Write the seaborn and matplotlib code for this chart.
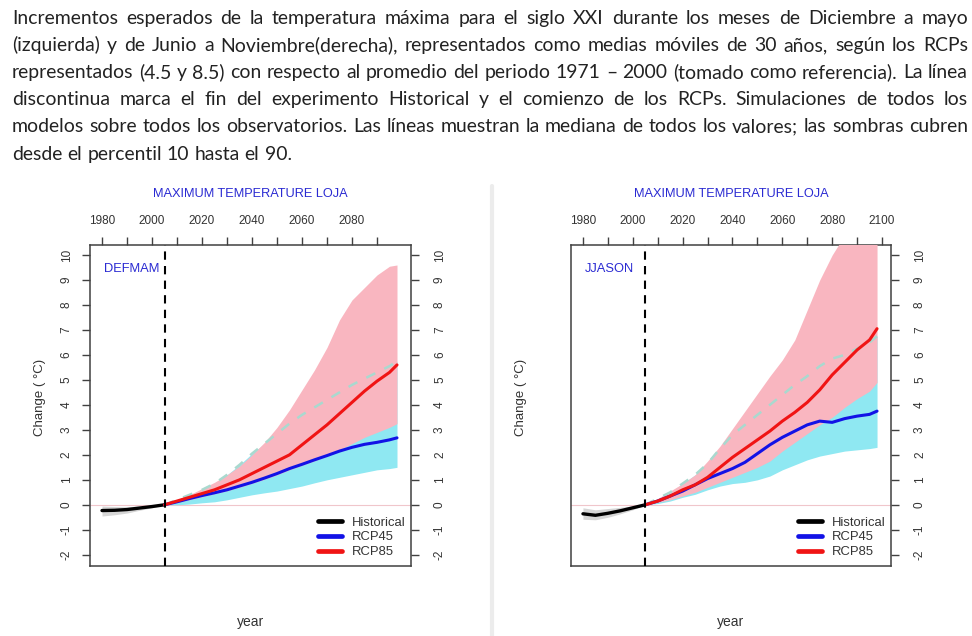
import matplotlib
matplotlib.use("Agg")
import matplotlib.pyplot as plt
from matplotlib.lines import Line2D
from matplotlib.font_manager import FontProperties
import numpy as np
import pandas as pd
import seaborn as sns

sns.set_style("white")
plt.rcParams['font.family'] = ['Liberation Sans', 'DejaVu Sans']

# ---------------- text ----------------
header_lines = [
    "Incrementos esperados de la temperatura máxima para el siglo XXI durante los meses de Diciembre a mayo",
    "(izquierda) y de Junio a Noviembre(derecha), representados como medias móviles de 30 años, según los RCPs",
    "representados (4.5 y 8.5) con respecto al promedio del periodo 1971 – 2000 (tomado como referencia). La línea",
    "discontinua marca el fin del experimento Historical y el comienzo de los RCPs. Simulaciones de todos los",
    "modelos sobre todos los observatorios. Las líneas muestran la mediana de todos los valores; las sombras cubren",
    "desde el percentil 10 hasta el 90.",
]
plot_title = "MAXIMUM TEMPERATURE LOJA"
season_labels = ["DEFMAM", "JJASON"]
legend_labels = ["Historical", "RCP45", "RCP85"]
y_label = "Change ( °C)"
x_label = "year"

# ---------------- data ----------------
hist_years = [1980, 1985, 1990, 1995, 2000, 2005]
rcp_years = [2005, 2010, 2015, 2020, 2025, 2030, 2035, 2040, 2045, 2050,
             2055, 2060, 2065, 2070, 2075, 2080, 2085, 2090, 2095, 2098]

# left panel (DEFMAM)
L_hist = [-0.23, -0.22, -0.19, -0.13, -0.07, 0.0]
L_hist_lo = [-0.45, -0.40, -0.33, -0.22, -0.12, 0.0]
L_hist_hi = [-0.05, -0.07, -0.08, -0.05, -0.03, 0.0]
L_r85 = [0, 0.15, 0.3, 0.45, 0.6, 0.8, 1.0, 1.25, 1.5, 1.75, 2.0, 2.4, 2.8, 3.2, 3.65, 4.1, 4.55, 4.95, 5.3, 5.6]
L_r85_lo = [0, 0.1, 0.2, 0.32, 0.44, 0.56, 0.7, 0.86, 1.02, 1.2, 1.4, 1.58, 1.76, 1.95, 2.2, 2.45, 2.7, 2.9, 3.1, 3.25]
L_r85_hi = [0, 0.2, 0.4, 0.65, 0.9, 1.2, 1.55, 2.0, 2.5, 3.1, 3.8, 4.6, 5.4, 6.3, 7.4, 8.2, 8.7, 9.2, 9.55, 9.6]
L_r45 = [0, 0.12, 0.25, 0.37, 0.48, 0.6, 0.75, 0.9, 1.07, 1.25, 1.45, 1.62, 1.8, 1.97, 2.15, 2.3, 2.42, 2.5, 2.6, 2.68]
L_r45_lo = [0, 0.0, 0.03, 0.08, 0.12, 0.2, 0.3, 0.4, 0.48, 0.55, 0.65, 0.75, 0.88, 1.0, 1.1, 1.2, 1.3, 1.4, 1.45, 1.5]
L_r45_hi = [0, 0.2, 0.4, 0.6, 0.85, 1.2, 1.6, 2.05, 2.45, 2.85, 3.25, 3.6, 3.9, 4.2, 4.5, 4.8, 5.05, 5.3, 5.55, 5.75]

# right panel (JJASON)
R_hist = [-0.36, -0.42, -0.34, -0.24, -0.12, 0.0]
R_hist_lo = [-0.58, -0.60, -0.50, -0.36, -0.20, 0.0]
R_hist_hi = [-0.12, -0.20, -0.15, -0.10, -0.05, 0.0]
R_r85 = [0, 0.15, 0.35, 0.6, 0.8, 1.1, 1.5, 1.9, 2.25, 2.6, 2.95, 3.35, 3.7, 4.1, 4.6, 5.2, 5.7, 6.2, 6.6, 7.05]
R_r85_lo = [0, 0.1, 0.2, 0.35, 0.5, 0.7, 0.9, 1.1, 1.3, 1.5, 1.75, 2.15, 2.5, 2.85, 3.2, 3.5, 3.9, 4.25, 4.55, 4.9]
R_r85_hi = [0, 0.25, 0.55, 0.85, 1.2, 1.75, 2.35, 3.05, 3.75, 4.45, 5.15, 5.8, 6.6, 7.8, 9.0, 10.0, 10.8, 11.3, 11.6, 11.8]
R_r45 = [0, 0.15, 0.35, 0.55, 0.8, 1.05, 1.25, 1.45, 1.7, 2.05, 2.4, 2.7, 2.95, 3.2, 3.35, 3.3, 3.45, 3.55, 3.62, 3.75]
R_r45_lo = [0, 0.05, 0.15, 0.3, 0.42, 0.6, 0.75, 0.85, 0.9, 1.0, 1.15, 1.4, 1.6, 1.8, 1.95, 2.05, 2.15, 2.2, 2.25, 2.3]
R_r45_hi = [0, 0.25, 0.5, 0.85, 1.2, 1.65, 2.25, 2.8, 3.2, 3.6, 4.0, 4.4, 4.8, 5.15, 5.55, 5.85, 6.0, 6.25, 6.5, 6.75]

panels = [
    dict(season=season_labels[0], hist=L_hist, hist_lo=L_hist_lo, hist_hi=L_hist_hi,
         r85=L_r85, r85_lo=L_r85_lo, r85_hi=L_r85_hi,
         r45=L_r45, r45_lo=L_r45_lo, r45_hi=L_r45_hi,
         xticks=list(range(1980, 2091, 10))),
    dict(season=season_labels[1], hist=R_hist, hist_lo=R_hist_lo, hist_hi=R_hist_hi,
         r85=R_r85, r85_lo=R_r85_lo, r85_hi=R_r85_hi,
         r45=R_r45, r45_lo=R_r45_lo, r45_hi=R_r45_hi,
         xticks=list(range(1980, 2101, 10))),
]

C_PINK = "#f9b6c0"
C_CYAN = "#8fe8f2"
C_DASH = "#a9d9cf"
C_RED = "#f01414"
C_BLUE = "#1212e6"
C_TITLE = "#2a2ad2"
C_AX = "#404040"
C_TXT = "#333333"

W, H = 972, 636
fig = plt.figure(figsize=(W / 100, H / 100), dpi=100)
fig.patch.set_facecolor("white")

# separator between the two panel images
fig.add_artist(Line2D([492 / W, 492 / W], [0, 1 - 186 / H], transform=fig.transFigure,
                      color="#ececec", lw=3))

axes_px = [(90, 245, 411, 566), (571, 245, 891, 566)]

for i, (p, (x0, y0, x1, y1)) in enumerate(zip(panels, axes_px)):
    ax = fig.add_axes([x0 / W, 1 - y1 / H, (x1 - x0) / W, (y1 - y0) / H])
    ax.set_facecolor("white")
    aw, ah = (x1 - x0), (y1 - y0)

    dfh = pd.DataFrame({"year": hist_years, "value": p["hist"]})
    d45 = pd.DataFrame({"year": rcp_years, "value": p["r45"]})
    d85 = pd.DataFrame({"year": rcp_years, "value": p["r85"]})
    d45hi = pd.DataFrame({"year": rcp_years, "value": p["r45_hi"]})

    ax.axhline(0, color="#f0c6cb", lw=0.8, zorder=1)
    ax.fill_between(rcp_years, p["r45_lo"], p["r45_hi"], color=C_CYAN, lw=0, zorder=2)
    ax.fill_between(rcp_years, p["r85_lo"], p["r85_hi"], color=C_PINK, lw=0, zorder=3)
    ax.fill_between(hist_years, p["hist_lo"], p["hist_hi"], color="#d6d6d6", lw=0, zorder=3)
    sns.lineplot(data=d45hi, x="year", y="value", ax=ax, color=C_DASH, lw=1.8,
                 linestyle=(0, (4, 4)), zorder=4, legend=False)
    sns.lineplot(data=dfh, x="year", y="value", ax=ax, color="black", lw=2.4, zorder=5, legend=False)
    sns.lineplot(data=d45, x="year", y="value", ax=ax, color=C_BLUE, lw=2.2, zorder=5, legend=False)
    sns.lineplot(data=d85, x="year", y="value", ax=ax, color=C_RED, lw=2.2, zorder=6, legend=False)
    ax.axvline(2005, color="black", lw=1.5, ls=(0, (4, 3)), zorder=7)

    ax.set_xlim(1975.2, 2103.6)
    ax.set_ylim(-2.45, 10.4)
    ax.set_xlabel("")
    ax.set_ylabel("")

    ax.set_xticks(p["xticks"])
    ax.set_xticklabels([str(t) if t % 20 == 0 else "" for t in p["xticks"]])
    ax.xaxis.set_ticks_position("top")
    ax.tick_params(axis="x", which="both", top=True, bottom=False, labeltop=True,
                   labelbottom=False, direction="out", length=6, width=1,
                   pad=7, labelsize=8.5, colors=C_AX, labelcolor=C_TXT)

    yt = list(range(-2, 11))
    ax.set_yticks(yt)
    ax.set_yticklabels([str(v) for v in yt])
    ax.tick_params(axis="y", left=(i == 0), right=True, labelleft=(i == 0), labelright=False,
                   direction="out", length=6, width=1, pad=6.5, labelsize=8.5,
                   labelrotation=90, colors=C_AX, labelcolor=C_TXT)
    for lab in ax.get_yticklabels():
        lab.set_va("center")
    # right-hand labels, a bit further out than the left ones
    for v in yt:
        ax.annotate(str(v), xy=(1, v), xycoords=("axes fraction", "data"),
                    xytext=(29 / 1.389, 0), textcoords="offset points",
                    rotation=90, ha="center", va="center", fontsize=8.5, color=C_TXT)

    for s in ax.spines.values():
        s.set_visible(True)
        s.set_color(C_AX)
        s.set_linewidth(1.1)

    ax.text(0.5, (y1 - 194) / ah, plot_title, transform=ax.transAxes,
            ha="center", va="center", fontsize=9.2, color=C_TITLE)
    ax.text((104 - 90) / aw, (566 - 269) / ah, p["season"], transform=ax.transAxes,
            ha="left", va="center", fontsize=9.3, color=C_TITLE)
    ax.text(0.5, (y1 - 622) / ah, x_label, transform=ax.transAxes,
            ha="center", va="center", fontsize=10, color=C_TXT)
    ax.text(-50 / aw, (566 - 397) / ah, y_label, transform=ax.transAxes,
            ha="center", va="center", rotation=90, fontsize=9.5, color=C_TXT)

    handles = [Line2D([], [], color="black", lw=3.4),
               Line2D([], [], color=C_BLUE, lw=3.4),
               Line2D([], [], color=C_RED, lw=3.4)]
    ax.legend(handles, legend_labels, loc="lower right", bbox_to_anchor=(1.02, -0.012),
              frameon=False, fontsize=9.4, handlelength=1.85, handletextpad=0.75,
              labelspacing=0.2, borderaxespad=0.5, labelcolor=C_TXT)

# ---------------- justified header (word by word) ----------------
fig.canvas.draw()
rend = fig.canvas.get_renderer()
line_base = [24, 51, 78, 105, 132, 160]
x_left, x_right = 12, 968
hdr_family = ["Lato", "DejaVu Sans"]


def text_width(s, size):
    t = fig.text(0, 0, s, fontsize=size, family=hdr_family)
    w = t.get_window_extent(rend).width
    t.remove()
    return w


base = 10.0
scale = min((x_right - x_left) / text_width(line, base) for line in header_lines[:-1])
hdr_size = base * scale * 0.995
space_w = 0.26 * hdr_size * 100 / 72
fp = FontProperties(family=hdr_family, size=hdr_size)
_, _, lp_d = rend.get_text_width_height_descent("lp", fp, ismath=False)

for k, line in enumerate(header_lines):
    words = line.split(" ")
    ts = []
    for w in words:
        _, _, d = rend.get_text_width_height_descent(w, fp, ismath=False)
        lift = max(0.0, d - lp_d)  # words with deeper descenders are drawn too low
        ts.append(fig.text(0, 1 - (line_base[k] - lift) / H, w, fontproperties=fp,
                           color="#222222", va="baseline", ha="left"))
    widths = [t.get_window_extent(rend).width for t in ts]
    if k < len(header_lines) - 1:
        gap = (x_right - x_left - sum(widths)) / (len(words) - 1)
    else:
        gap = space_w
    x = x_left
    for t, wdt in zip(ts, widths):
        t.set_x(x / W)
        x += wdt + gap

fig.savefig("out.png", dpi=100, facecolor="white")
